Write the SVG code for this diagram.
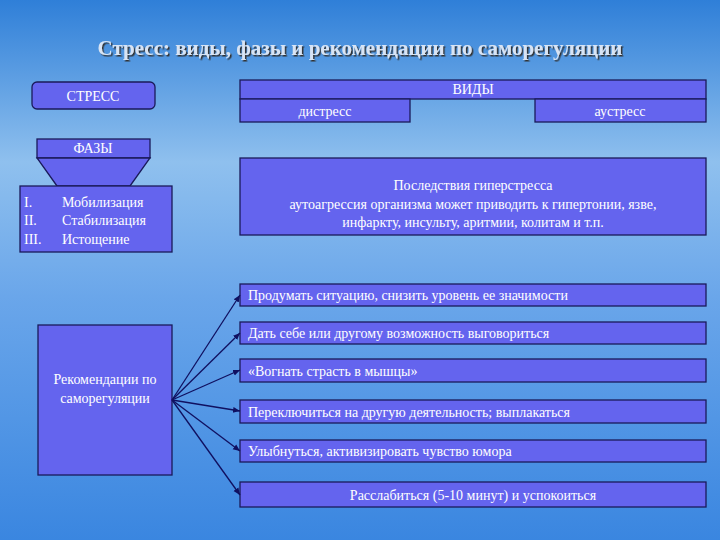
<svg xmlns="http://www.w3.org/2000/svg" width="720" height="540" viewBox="0 0 720 540">
<defs>
<linearGradient id="bg" x1="0" y1="0" x2="0" y2="1">
<stop offset="0" stop-color="#2f7fd8"/><stop offset="0.3" stop-color="#8fc0ee"/><stop offset="0.55" stop-color="#6aa6ea"/><stop offset="1" stop-color="#3a86e0"/>
</linearGradient>
<filter id="sh" x="-5%" y="-30%" width="110%" height="160%"><feDropShadow dx="1.5" dy="1.5" stdDeviation="0.4" flood-color="#333"/></filter>
<marker id="ah" markerWidth="8" markerHeight="8" refX="7" refY="4" orient="auto" markerUnits="userSpaceOnUse"><path d="M0,1 L7,4 L0,7 z" fill="#101060"/></marker>
<style>
.b{fill:#6464ee;stroke:#1a1a5a;stroke-width:1.3}
.t{font-family:"Liberation Serif",serif;font-size:14px;fill:#fff}
.c{text-anchor:middle}
.ln{stroke:#101060;stroke-width:1.3;fill:none;marker-end:url(#ah)}
</style>
</defs>
<rect width="720" height="540" fill="url(#bg)"/>
<text x="360" y="55" class="t c" filter="url(#sh)" style="font-size:21px;font-weight:bold;fill:#d8e4f4">Стресс: виды, фазы и рекомендации по саморегуляции</text>
<g id="stress"><rect x="32" y="82" width="123" height="27" rx="5" class="b"/><text x="93" y="101" class="t c">СТРЕСС</text></g>
<g id="vidy"><rect x="240" y="80" width="466" height="19" class="b"/><text x="473" y="94" class="t c">ВИДЫ</text></g>
<g id="distress"><rect x="240" y="99" width="170" height="23" class="b"/><text x="325" y="116" class="t c">дистресс</text></g>
<g id="eustress"><rect x="535" y="99" width="171" height="23" class="b"/><text x="620" y="116" class="t c">аустресс</text></g>
<g id="fazy"><rect x="37" y="139" width="113" height="19" class="b"/><text x="93" y="153" class="t c">ФАЗЫ</text>
<path d="M37,158 L150,158 L130,186 L57,186 z" class="b"/></g>
<g id="phases"><rect x="20" y="186" width="152" height="66" class="b"/>
<text x="24" y="207" class="t">I.</text><text x="62" y="207" class="t">Мобилизация</text>
<text x="24" y="225" class="t">II.</text><text x="62" y="225" class="t">Стабилизация</text>
<text x="24" y="244" class="t">III.</text><text x="62" y="244" class="t">Истощение</text></g>
<g id="hyper"><rect x="240" y="158" width="466" height="77" class="b"/>
<text x="473" y="190" class="t c">Последствия гиперстресса</text>
<text x="473" y="209" class="t c">аутоагрессия организма может приводить к гипертонии, язве,</text>
<text x="473" y="227" class="t c">инфаркту, инсульту, аритмии, колитам и т.п.</text></g>
<g id="rec"><rect x="38" y="325" width="134" height="150" class="b"/>
<text x="105" y="384" class="t c">Рекомендации по</text><text x="105" y="403" class="t c">саморегуляции</text></g>
<g id="r1"><rect x="240" y="284" width="466" height="22" class="b"/><text x="248" y="300" class="t">Продумать ситуацию, снизить уровень ее значимости</text></g>
<g id="r2"><rect x="240" y="322" width="466" height="22" class="b"/><text x="248" y="338" class="t">Дать себе или другому возможность выговориться</text></g>
<g id="r3"><rect x="240" y="359" width="466" height="23" class="b"/><text x="248" y="376" class="t">«Вогнать страсть в мышцы»</text></g>
<g id="r4"><rect x="240" y="400" width="466" height="23" class="b"/><text x="248" y="417" class="t">Переключиться на другую деятельность; выплакаться</text></g>
<g id="r5"><rect x="240" y="440" width="466" height="22" class="b"/><text x="248" y="456" class="t">Улыбнуться, активизировать чувство юмора</text></g>
<g id="r6"><rect x="240" y="482" width="466" height="25" class="b"/><text x="473" y="500" class="t c">Расслабиться (5-10 минут) и успокоиться</text></g>
<g id="connectors">
<line x1="172" y1="400" x2="240" y2="295" class="ln"/>
<line x1="172" y1="400" x2="240" y2="333" class="ln"/>
<line x1="172" y1="400" x2="240" y2="370" class="ln"/>
<line x1="172" y1="400" x2="240" y2="411" class="ln"/>
<line x1="172" y1="400" x2="240" y2="451" class="ln"/>
<line x1="172" y1="400" x2="240" y2="495" class="ln"/>
</g>
</svg>
